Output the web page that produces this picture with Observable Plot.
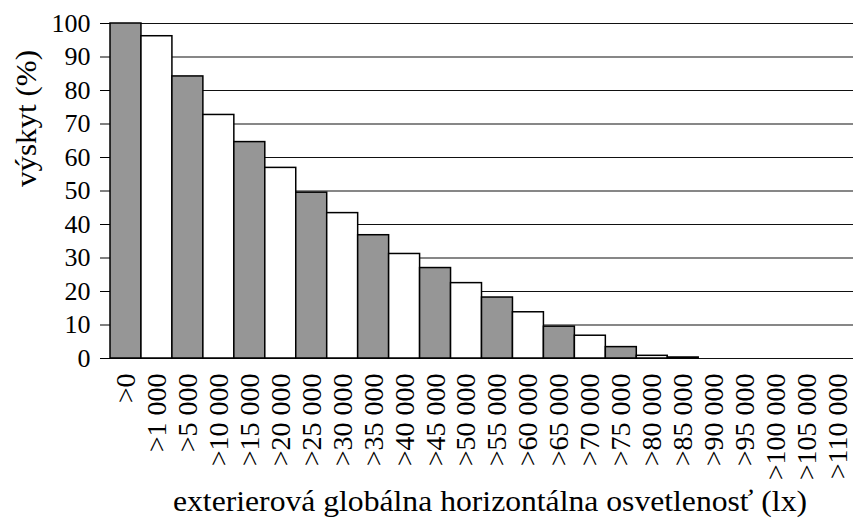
<!DOCTYPE html>
<html>
<head>
<meta charset="utf-8">
<script src="https://cdn.jsdelivr.net/npm/d3@7"></script>
<script src="https://cdn.jsdelivr.net/npm/@observablehq/plot@0.6"></script>
<style>
  html, body { margin: 0; padding: 0; background: #fff; }
  #chart svg { display: block; }
</style>
</head>
<body>
<div id="chart"></div>
<script>
const categories = [">0", ">1 000", ">5 000", ">10 000", ">15 000", ">20 000", ">25 000", ">30 000",
  ">35 000", ">40 000", ">45 000", ">50 000", ">55 000", ">60 000", ">65 000", ">70 000",
  ">75 000", ">80 000", ">85 000", ">90 000", ">95 000", ">100 000", ">105 000", ">110 000"];
const values = [100, 96.2, 84.2, 72.7, 64.6, 56.9, 49.5, 43.4, 36.8, 31.2, 27.0, 22.5,
  18.2, 13.8, 9.5, 6.8, 3.4, 0.8, 0.3, 0, 0, 0, 0, 0];
const yTicks = [0, 10, 20, 30, 40, 50, 60, 70, 80, 90, 100];
const yLabel = "výskyt (%)";
const xLabel = "exterierová globálna horizontálna osvetlenosť (lx)";

const data = categories.map((c, i) => ({cat: c, v: values[i], i}));
const serif = "Liberation Serif";

const chart = Plot.plot({
  width: 854,
  height: 529,
  marginLeft: 110,
  marginRight: 1,
  marginTop: 23,
  marginBottom: 171,
  style: {fontFamily: serif, color: "#000", background: "#fff"},
  x: {domain: categories, padding: 0, round: false, label: null},
  y: {domain: [0, 100], label: null},
  marks: [
    Plot.ruleY(yTicks, {stroke: "#111", strokeWidth: 1.2}),
    Plot.barY(data, {
      x: "cat", y: "v",
      fill: d => d.i % 2 ? "#ffffff" : "#969696",
      stroke: "#000", strokeWidth: 1.5
    }),
    Plot.axisY({ticks: yTicks, tickSize: 10, tickPadding: 10, fontSize: 26, label: null, stroke: "#000", fontFamily: serif}),
    Plot.axisX({tickSize: 0, tickPadding: 15, tickRotate: -90, fontSize: 28, label: null, fontFamily: serif}),
    Plot.text([yLabel], {frameAnchor: "left", dx: -84, dy: -4, rotate: -90, fontSize: 30, fontFamily: serif, text: d => d, fill: "#000"}),
    Plot.text([xLabel], {frameAnchor: "bottom", dx: 8, dy: 152, fontSize: 30, fontFamily: serif, text: d => d, fill: "#000"})
  ]
});

document.getElementById("chart").appendChild(chart);

d3.select(chart).attr("font-family", serif);
d3.select(chart).selectAll("text").attr("font-family", serif).style("font-family", serif);
d3.select(chart).selectAll("text").each(function() {
  const t = this.textContent;
  if (t === xLabel) {
    d3.select(this).attr("textLength", 634).attr("lengthAdjust", "spacingAndGlyphs");
  } else if (t === yLabel) {
    d3.select(this).attr("textLength", 137).attr("lengthAdjust", "spacingAndGlyphs");
  }
});
</script>
</body>
</html>
